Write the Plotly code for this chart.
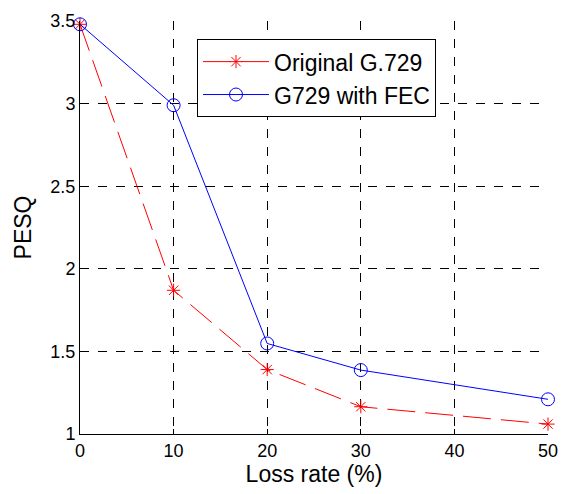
import plotly.graph_objects as go

loss_rate = [0, 10, 20, 30, 50]
original_g729 = [3.48, 1.87, 1.39, 1.165, 1.06]
g729_fec = [3.48, 2.99, 1.548, 1.387, 1.21]
x_ticks = [0, 10, 20, 30, 40, 50]
y_ticks = [1, 1.5, 2, 2.5, 3, 3.5]
y_tick_labels = ["1", "1.5", "2", "2.5", "3", "3.5"]

FONT = "Liberation Sans, Arial"

fig = go.Figure()
fig.add_trace(go.Scatter(
    x=loss_rate, y=original_g729, mode="lines+markers", name="Original G.729",
    line=dict(color="red", width=1, dash="28px,10px"),
    marker=dict(symbol="asterisk-open", size=11, color="red", line=dict(color="red", width=1)),
    cliponaxis=False,
))
fig.add_trace(go.Scatter(
    x=loss_rate, y=g729_fec, mode="lines+markers", name="G729 with FEC",
    line=dict(color="blue", width=1),
    marker=dict(symbol="circle-open", size=13, color="blue", line=dict(color="blue", width=1)),
    cliponaxis=False,
))

axis_common = dict(
    showgrid=True, gridcolor="black", gridwidth=1, griddash="dash",
    showline=True, linecolor="black", linewidth=1, mirror=False,
    ticks="inside", ticklen=5, tickcolor="black", zeroline=False,
    automargin=True,
    tickfont=dict(family=FONT, size=18, color="black"),
)
fig.update_xaxes(range=[0, 50], tickvals=x_ticks,
                 title=dict(text="Loss rate (%)", font=dict(family=FONT, size=23, color="black"), standoff=2),
                 **axis_common)
fig.update_yaxes(range=[1, 3.5], tickvals=y_ticks, ticktext=y_tick_labels,
                 title=dict(text="PESQ", font=dict(family=FONT, size=23, color="black"), standoff=12),
                 **axis_common)

# the page body adds an 8px offset, so the figure is 8px smaller and margins shifted
fig.update_layout(
    width=561, height=486,
    margin=dict(l=72, r=21, t=13, b=60, autoexpand=False),
    plot_bgcolor="white", paper_bgcolor="white",
    legend=dict(x=0.25, y=0.956, xanchor="left", yanchor="top",
                bordercolor="black", borderwidth=1, bgcolor="white",
                font=dict(family=FONT, size=23, color="black"),
                itemwidth=66, tracegroupgap=0),
    showlegend=True,
)
fig.write_html("out.html")
